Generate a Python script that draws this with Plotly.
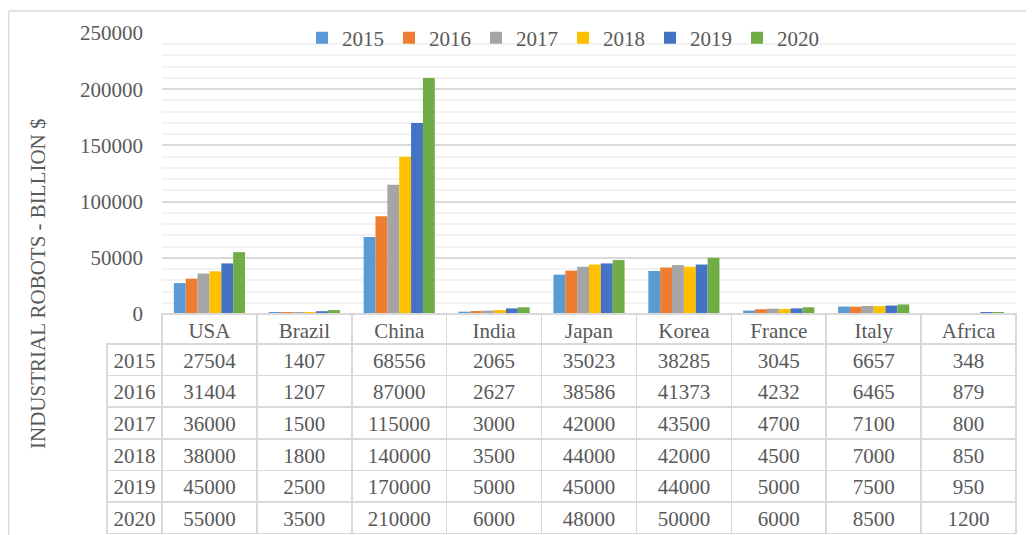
import plotly.graph_objects as go

countries = ["USA", "Brazil", "China", "India", "Japan", "Korea", "France", "Italy", "Africa"]
years = ["2015", "2016", "2017", "2018", "2019", "2020"]
v2015 = [27504, 1407, 68556, 2065, 35023, 38285, 3045, 6657, 348]
v2016 = [31404, 1207, 87000, 2627, 38586, 41373, 4232, 6465, 879]
v2017 = [36000, 1500, 115000, 3000, 42000, 43500, 4700, 7100, 800]
v2018 = [38000, 1800, 140000, 3500, 44000, 42000, 4500, 7000, 850]
v2019 = [45000, 2500, 170000, 5000, 45000, 44000, 5000, 7500, 950]
v2020 = [55000, 3500, 210000, 6000, 48000, 50000, 6000, 8500, 1200]
series = [v2015, v2016, v2017, v2018, v2019, v2020]
colors = ["#5B9BD5", "#ED7D31", "#A5A5A5", "#FFC000", "#4472C4", "#70AD47"]

FONT = "Liberation Serif, Times New Roman, serif"
TXT = "#595959"
GRID = "#D9D9D9"
CLEAR = "rgba(0,0,0,0)"

# the page body adds an 8px offset; figure coordinates = screen coordinates - 8
OFF = 8
W, H = 1034 - OFF, 535 - OFF
ML = 107 - OFF
MT = 33 - OFF
MR = 1034 - 1016
MB = 0
PW = W - ML - MR
PH = H - MT - MB


def px_x(sx):
    return (sx - OFF - ML) / PW


def px_y(sy):
    return (H - MB - (sy - OFF)) / PH


x0 = px_x(162)
y0 = px_y(314)

fig = go.Figure()
for yr, vals, c in zip(years, series, colors):
    fig.add_trace(go.Bar(x=countries, y=vals, name=yr, marker=dict(color=c, line=dict(width=0)),
                         xaxis="x", yaxis="y"))

# data table (columns built from the series)
cols = [years] + [[s[i] for s in series] for i in range(len(countries))]
first_w = 162 - 107
cw = [first_w] + [(PW - first_w) / len(countries)] * len(countries)
fig.add_trace(go.Table(
    domain=dict(x=[0, 1], y=[0, y0]),
    columnwidth=cw,
    header=dict(values=[""] + countries, align="center", height=30,
                fill=dict(color=[CLEAR] + ["white"] * len(countries)),
                line=dict(color=[CLEAR] + [GRID] * len(countries), width=1.5),
                font=dict(family=FONT, size=21, color=TXT)),
    cells=dict(values=cols, align="center", height=31.6,
               fill=dict(color="white"),
               line=dict(color=GRID, width=1.5),
               font=dict(family=FONT, size=21, color=TXT)),
))

fig.update_layout(
    template="none",
    width=W, height=H,
    margin=dict(l=ML, r=MR, t=MT, b=MB, pad=0, autoexpand=False),
    paper_bgcolor="white", plot_bgcolor="white",
    barmode="group", bargap=0.25, bargroupgap=0,
    font=dict(family=FONT, size=21, color=TXT),
    xaxis=dict(domain=[x0, 1], showticklabels=False, showgrid=False, showline=False,
               ticks="", zeroline=False, automargin=False),
    yaxis=dict(domain=[y0, 1], range=[0, 250000], dtick=50000, tickformat="d",
               showgrid=True, gridcolor=GRID, gridwidth=1.5, zeroline=False,
               showline=False, ticks="", ticklabelstandoff=18, automargin=False,
               tickfont=dict(family=FONT, size=21, color=TXT),
               minor=dict(dtick=10000, showgrid=True, gridcolor="#F2F2F2", gridwidth=1.5)),
    legend=dict(orientation="h", x=px_x(563), xanchor="center",
                y=px_y(38), yanchor="middle", bgcolor=CLEAR,
                font=dict(family=FONT, size=21, color=TXT), traceorder="normal"),
    showlegend=True,
)

fig.add_annotation(text="INDUSTRIAL ROBOTS - BILLION $", textangle=-90,
                   xref="paper", yref="paper", x=px_x(38), y=px_y(284),
                   xanchor="center", yanchor="middle", showarrow=False,
                   font=dict(family=FONT, size=21, color=TXT))

# outer chart frame (top and left edges)
fx = px_x(8.5)
fy = px_y(11)
fig.add_shape(type="line", xref="paper", yref="paper", x0=fx, x1=px_x(1040), y0=fy, y1=fy,
              line=dict(color=GRID, width=1.5))
fig.add_shape(type="line", xref="paper", yref="paper", x0=fx, x1=fx, y0=fy, y1=-0.05,
              line=dict(color=GRID, width=1.5))

fig.write_html("out.html")
